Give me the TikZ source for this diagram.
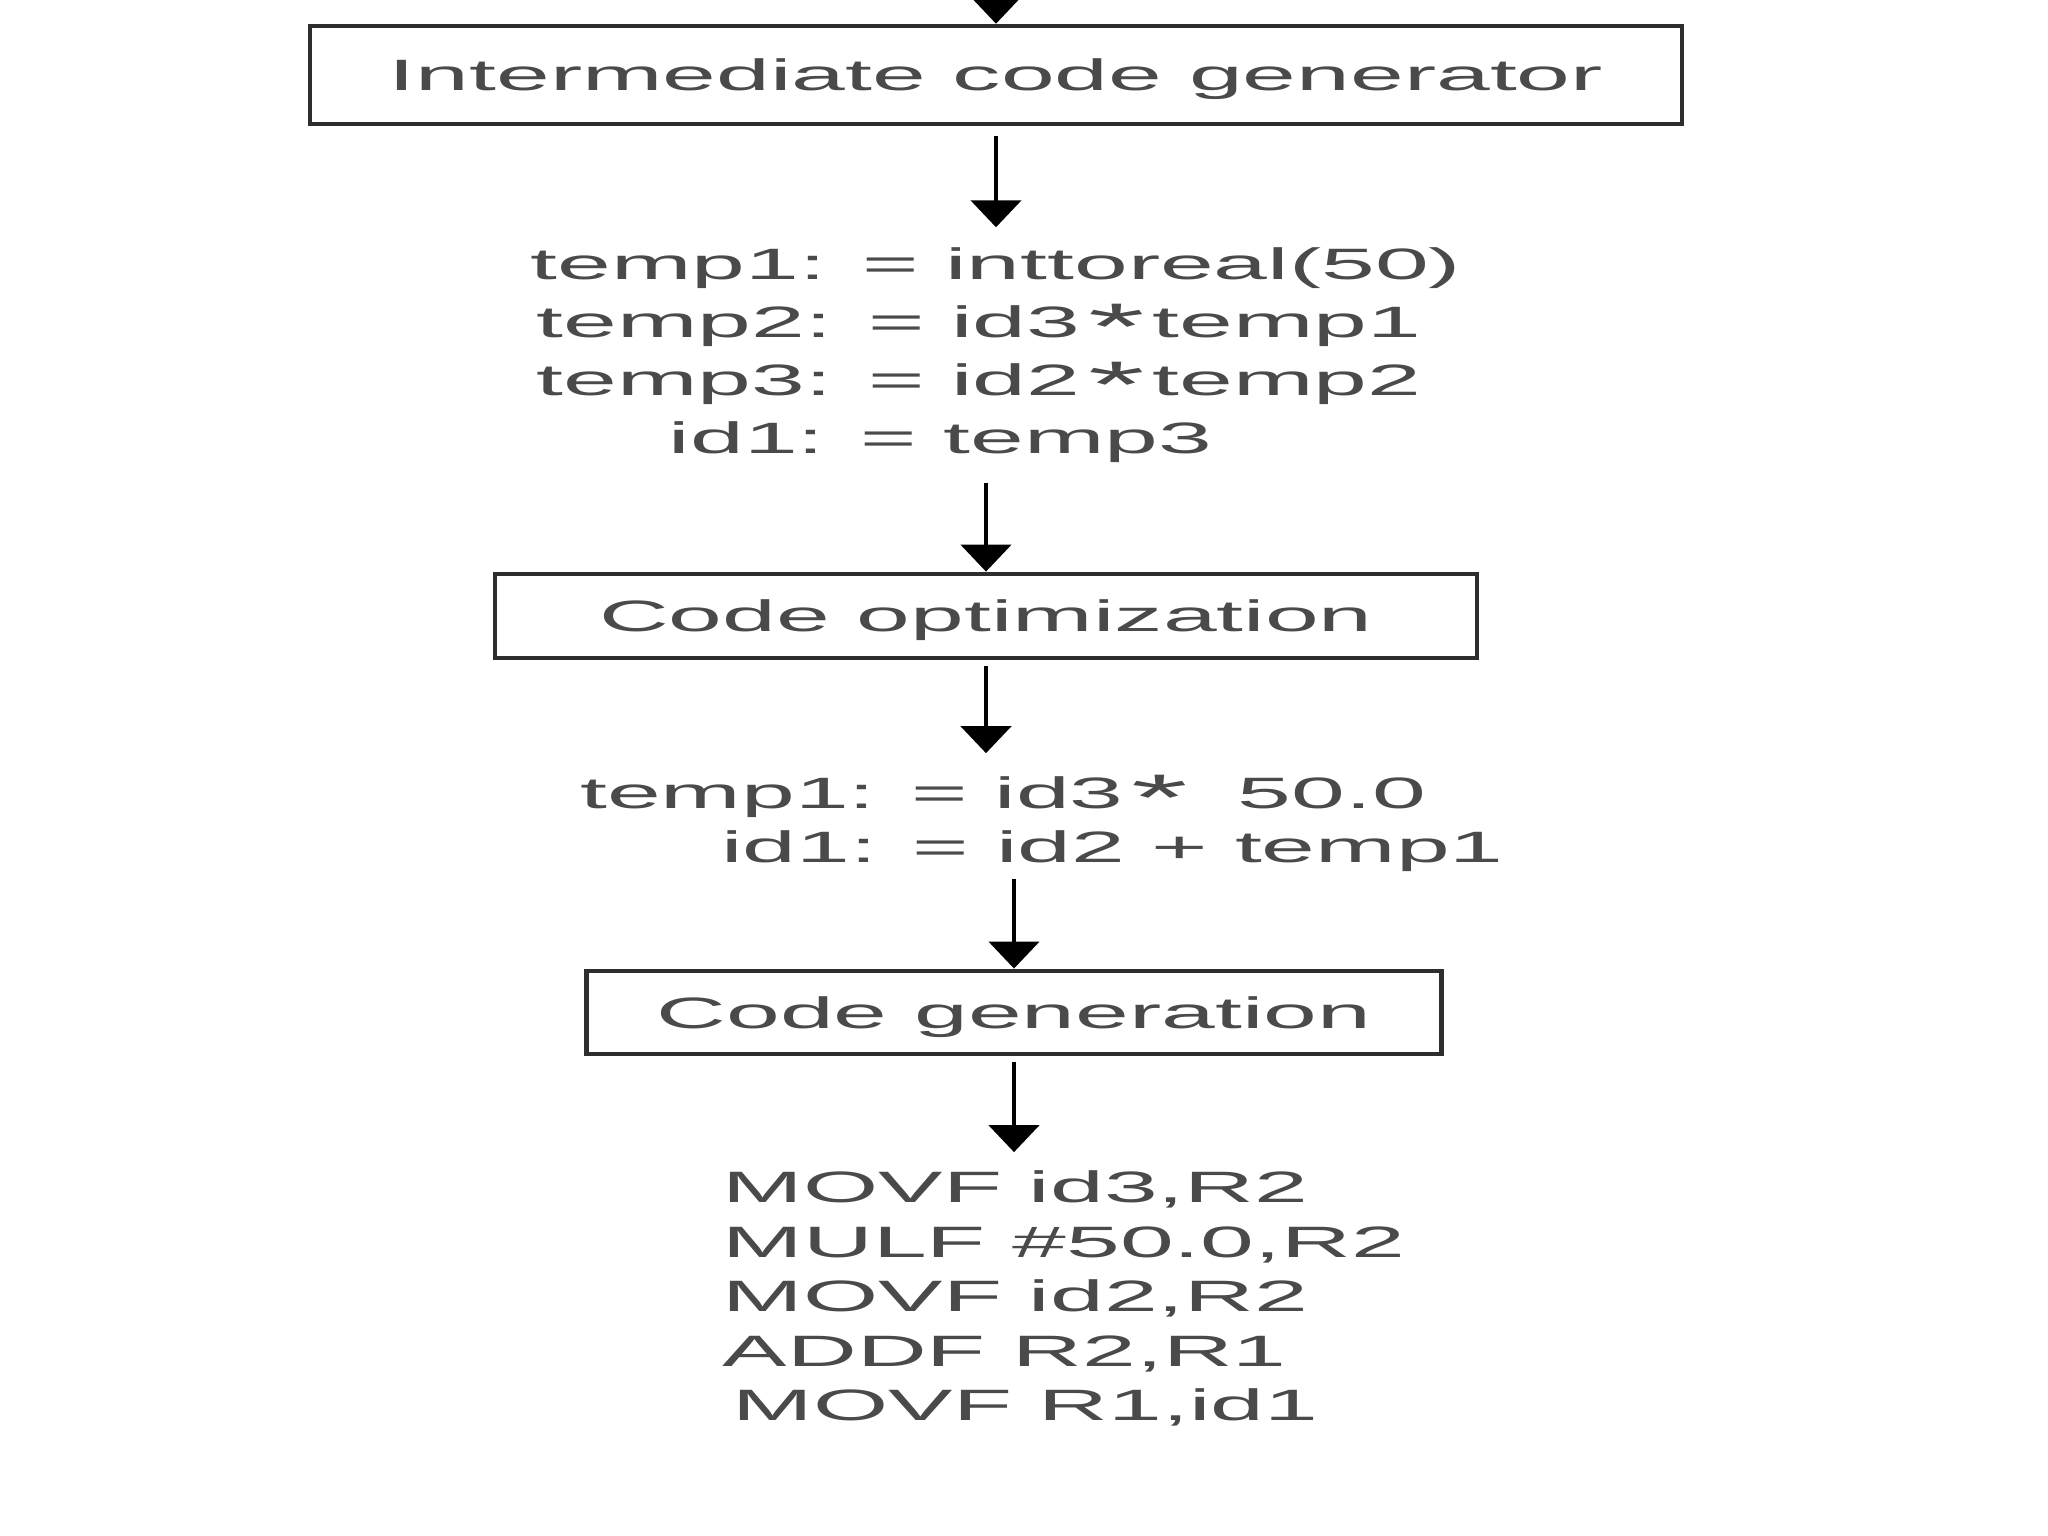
\documentclass[tikz,border=0pt]{standalone}
\usepackage{fontspec}
\setmainfont{Liberation Sans}[FakeStretch=2.2]
\usepackage{tikz}
\usetikzlibrary{arrows.meta,positioning}

\definecolor{inkgray}{HTML}{4A4A4A}
\definecolor{linegray}{HTML}{2E2E2E}
\newcommand{\mstar}{\hspace{0.08cm}\raisebox{-3.2pt}{\scalebox{1.5}{*}}\hspace{0.08cm}}

\begin{document}
\begin{tikzpicture}[
  font=\fontsize{12.5}{16}\selectfont,
  phase/.style={draw=linegray, line width=1.3pt, text=inkgray, inner sep=0pt,
    text depth=0pt, minimum height=0.84cm},
  codetext/.style={text=inkgray, align=left, inner sep=0pt},
  arrow/.style={-{Triangle[width=5mm,length=2.7mm]}, line width=1.4pt,
    shorten <=0.6mm},
  node distance=1cm
]
\useasboundingbox (0,0) rectangle (20.48,-15.36);

\node[phase, minimum width=13.72cm, minimum height=0.98cm] (icg) at (9.96,-0.75)
  {Intermediate code generator};
\coordinate[above=6mm of icg] (in);

\node[codetext, below=1.21cm of icg, font=\fontsize{12.5}{16.5}\selectfont] (tac)
  {temp1: = inttoreal(50)\\
   \hspace*{0.06cm}temp2: = id3\mstar temp1\\
   \hspace*{0.06cm}temp3: = id2\mstar temp2\\
   \hspace*{1.38cm}id1: = temp3};

\node[phase, minimum width=9.82cm, below=1.08cm of tac, xshift=-0.1cm] (opt)
  {Code optimization};

\node[codetext, below=1.14cm of opt, xshift=0.56cm,
  font=\fontsize{12.5}{15.3}\selectfont] (opt2)
  {temp1: = id3\mstar\hspace{0.15cm} 50.0\\
   \hspace*{1.41cm}id1: = id2 + temp1};

\node[phase, minimum width=8.55cm, minimum height=0.83cm, below=0.96cm of opt2,
  xshift=-0.28cm] (gen) {Code generation};

\node[codetext, below=1.14cm of gen, xshift=0.5cm,
  font=\fontsize{12.5}{15.5}\selectfont] (asm)
  {MOVF id3,R2\\
   MULF \#50.0,R2\\
   MOVF id2,R2\\
   ADDF R2,R1\\
   \hspace*{0.1cm}MOVF R1,id1};

\draw[arrow] (in) -- (icg);
\draw[arrow, shorten <=1mm, shorten >=2mm] (icg.south) -- (icg.south |- tac.north);
\draw[arrow, shorten <=1.9mm] (tac.south -| opt.north) -- (opt.north);
\draw[arrow, shorten >=2.1mm] (opt.south) -- (opt.south |- opt2.north);
\draw[arrow] (opt2.south -| gen.north) -- (gen.north);
\draw[arrow, shorten >=1.8mm] (gen.south) -- (gen.south |- asm.north);
\end{tikzpicture}
\end{document}
